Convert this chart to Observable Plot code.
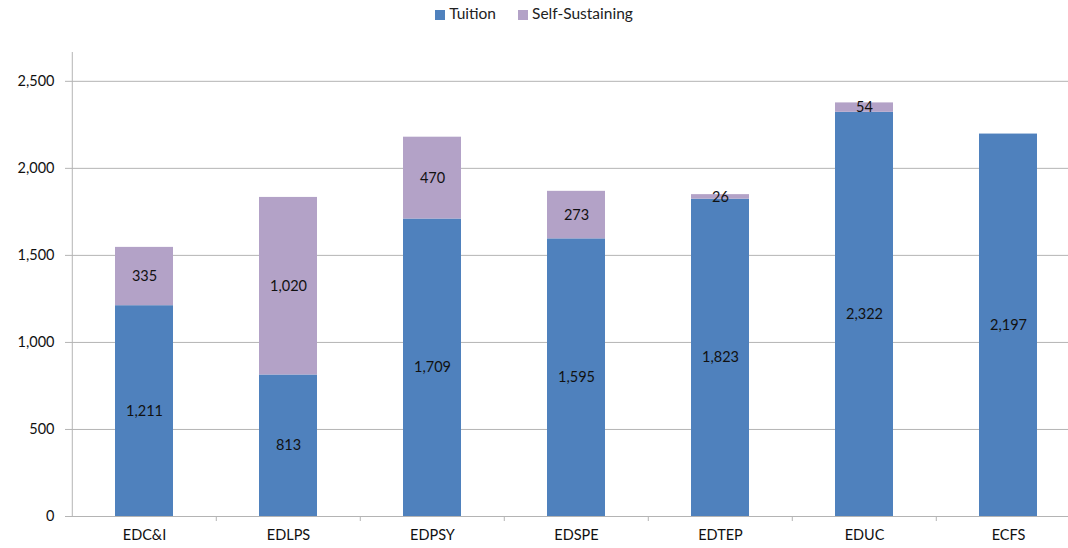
<!DOCTYPE html>
<html>
<head>
<meta charset="utf-8">
<script src="https://cdn.jsdelivr.net/npm/d3@7"></script>
<script src="https://cdn.jsdelivr.net/npm/@observablehq/plot@0.6"></script>
<style>
  html, body { margin: 0; padding: 0; background: #fff; }
  #wrap { position: relative; width: 1068px; height: 548px; font-family: Lato, "Open Sans", sans-serif; }
  #legend { position: absolute; top: 4px; left: 0; width: 1068px; text-align: center; font-size: 15.5px; color: #222; }
  #legend span.item { display: inline-block; margin: 0 11px; }
  #legend span.sw { display: inline-block; width: 10px; height: 10px; margin-right: 4px; vertical-align: -1px; }
  svg { position: absolute; top: 0; left: 0; }
</style>
</head>
<body>
<div id="wrap">
  <div id="legend"></div>
</div>
<script>
const categories = ["EDC&I", "EDLPS", "EDPSY", "EDSPE", "EDTEP", "EDUC", "ECFS"];
const seriesNames = ["Tuition", "Self-Sustaining"];
const tuition = [1211, 813, 1709, 1595, 1823, 2322, 2197];
const selfSustaining = [335, 1020, 470, 273, 26, 54, 0];
const yTicks = [0, 500, 1000, 1500, 2000, 2500];
const colors = ["#4F81BD", "#B3A2C7"];

const rows = [];
categories.forEach((c, i) => {
  rows.push({cat: c, series: seriesNames[0], value: tuition[i]});
  rows.push({cat: c, series: seriesNames[1], value: selfSustaining[i]});
});

const legend = document.getElementById("legend");
seriesNames.forEach((s, i) => {
  const item = document.createElement("span");
  item.className = "item";
  const sw = document.createElement("span");
  sw.className = "sw";
  sw.style.background = colors[i];
  item.appendChild(sw);
  item.appendChild(document.createTextNode(s));
  legend.appendChild(item);
});

const fmt = d3.format(",");
const xRange = [70, 1081];
const step = (xRange[1] - xRange[0]) / categories.length;
const gridColor = "#b4b4b4";

const chart = Plot.plot({
  width: 1068,
  height: 548,
  marginTop: 46,
  marginBottom: 32,
  marginLeft: 69,
  marginRight: 0,
  style: {fontFamily: "Lato, 'Open Sans', sans-serif", fontSize: "14px", color: "#111", background: "transparent", overflow: "visible"},
  x: {domain: categories, range: xRange, paddingInner: 0.6, paddingOuter: 0.3, label: null},
  y: {domain: [0, 2700], label: null},
  color: {domain: seriesNames, range: colors},
  marks: [
    Plot.gridY(yTicks, {stroke: gridColor, strokeOpacity: 1, strokeWidth: 1}),
    Plot.barY(rows, Plot.stackY({x: "cat", y: "value", fill: "series", order: seriesNames})),
    Plot.text(rows.filter(d => d.value > 0), Plot.stackY({
      x: "cat", y: "value", z: "series", order: seriesNames,
      text: d => fmt(d.value), fill: "#111", fontSize: 14.5
    })),
    Plot.ruleX([categories[0]], {x: d => d, dx: -step / 2, y1: 0, y2: 2700, stroke: gridColor, insetBottom: -6}),
    Plot.ruleY([0], {stroke: gridColor}),
    Plot.ruleX(categories.slice(1), {x: d => d, dx: -step / 2, y1: 0, y2: 0, stroke: gridColor, insetBottom: -5}),
    Plot.axisY(yTicks, {tickFormat: fmt, tickSize: 4, tickPadding: 11, stroke: gridColor, fill: "#111", fontSize: 14.5, label: null}),
    Plot.axisX({tickSize: 0, tickPadding: 13, fill: "#111", fontSize: 14.5, label: null})
  ]
});
document.getElementById("wrap").appendChild(chart);
</script>
</body>
</html>
